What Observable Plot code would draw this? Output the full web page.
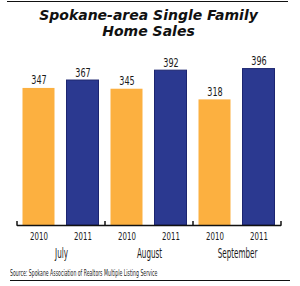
<!DOCTYPE html>
<html><head><meta charset="utf-8">
<script src="https://cdn.jsdelivr.net/npm/d3@7"></script>
<script src="https://cdn.jsdelivr.net/npm/@observablehq/plot@0.6"></script>
<style>
html,body{margin:0;padding:0;background:#fff;}
#c{position:relative;width:300px;height:286px;overflow:hidden;}
#toprule{position:absolute;left:7px;top:1px;width:281px;border-top:1.5px solid #111;}
#title{position:absolute;left:0;top:7px;width:297px;text-align:center;font-family:"DejaVu Sans",sans-serif;font-weight:bold;font-style:italic;font-size:14px;line-height:16px;color:#111;}
#plot{position:absolute;left:0;top:45px;}
#source{position:absolute;left:10px;top:269px;font-family:"DejaVu Sans Condensed",sans-serif;font-size:8px;color:#222;white-space:nowrap;transform-origin:0 0;transform:scaleX(0.64);}
#botrule{position:absolute;left:10px;top:280px;width:280px;border-top:1.5px solid #111;}
#plot svg text{font-family:"DejaVu Sans Condensed",sans-serif;fill:#1a1a1a;}
</style>
</head><body>
<div id="c">
<div id="toprule"></div>
<div id="title">Spokane-area Single Family<br>Home Sales</div>
<div id="plot"></div>
<div id="source">Source: Spokane Association of Realtors Multiple Listing Service</div>
<div id="botrule"></div>
</div>
<script>
const months = ["July", "August", "September"];
const years = ["2010", "2011"];
const sales2010 = [347, 345, 318];
const sales2011 = [367, 392, 396];
const fill2010 = "#FCB040";
const fill2011 = "#2B3990";
const stroke2011 = "#1C2570";

const rows2010 = months.map((m, i) => ({month: m, year: years[0], value: sales2010[i]}));
const rows2011 = months.map((m, i) => ({month: m, year: years[1], value: sales2011[i]}));
const rows = rows2010.concat(rows2011);

const chart = Plot.plot({
  width: 300,
  height: 217,
  marginLeft: 16.5,
  marginRight: 19,
  marginTop: 22,
  marginBottom: 37,
  style: {fontSize: "11px", background: "transparent"},
  fx: {domain: months, padding: 0, axis: "bottom", tickSize: 0, tickPadding: 22, label: null},
  x: {domain: years, paddingInner: 0.27, paddingOuter: 0.135, axis: "bottom", tickSize: 0, tickPadding: 7, label: null},
  y: {domain: [0, 400], axis: null},
  marks: [
    Plot.barY(rows2010, {fx: "month", x: "year", y: "value", fill: fill2010}),
    Plot.barY(rows2011, {fx: "month", x: "year", y: "value", fill: fill2011, stroke: stroke2011, strokeWidth: 1}),
    Plot.text(rows, {fx: "month", x: "year", y: "value", text: d => String(d.value), dy: -8, fontSize: 12.5}),
    Plot.ruleY([0], {stroke: "#111", strokeWidth: 1.5})
  ]
});
document.getElementById("plot").appendChild(chart);

// group separator ticks, placed with the library's fx and y scales
const fx = chart.scale("fx");
const y = chart.scale("y");
const y0 = y.apply(0);
const edges = months.map(m => fx.apply(m)).concat([fx.apply(months[months.length - 1]) + fx.bandwidth]);
d3.select(chart).append("g").attr("class", "seps")
  .selectAll("line").data(edges).join("line")
  .attr("x1", d => d).attr("x2", d => d)
  .attr("y1", y0 - 4).attr("y2", y0 + 0.75)
  .attr("stroke", "#111").attr("stroke-width", 1.5);

function squeeze(sel, k) {
  d3.select(chart).selectAll(sel).each(function() {
    const len = this.getComputedTextLength();
    this.setAttribute("textLength", len * k);
    this.setAttribute("lengthAdjust", "spacingAndGlyphs");
  });
}
d3.select(chart).selectAll('g[aria-label^="fx-axis"] text').style("font-size", "14.5px");
d3.select(chart).selectAll('g[aria-label^="x-axis"] text').style("font-size", "10.5px");
squeeze('g[aria-label^="fx-axis"] text', 0.55);
squeeze('g[aria-label^="x-axis"] text', 0.74);
squeeze('g[aria-label="text"] text', 0.72);
</script>
</body></html>
